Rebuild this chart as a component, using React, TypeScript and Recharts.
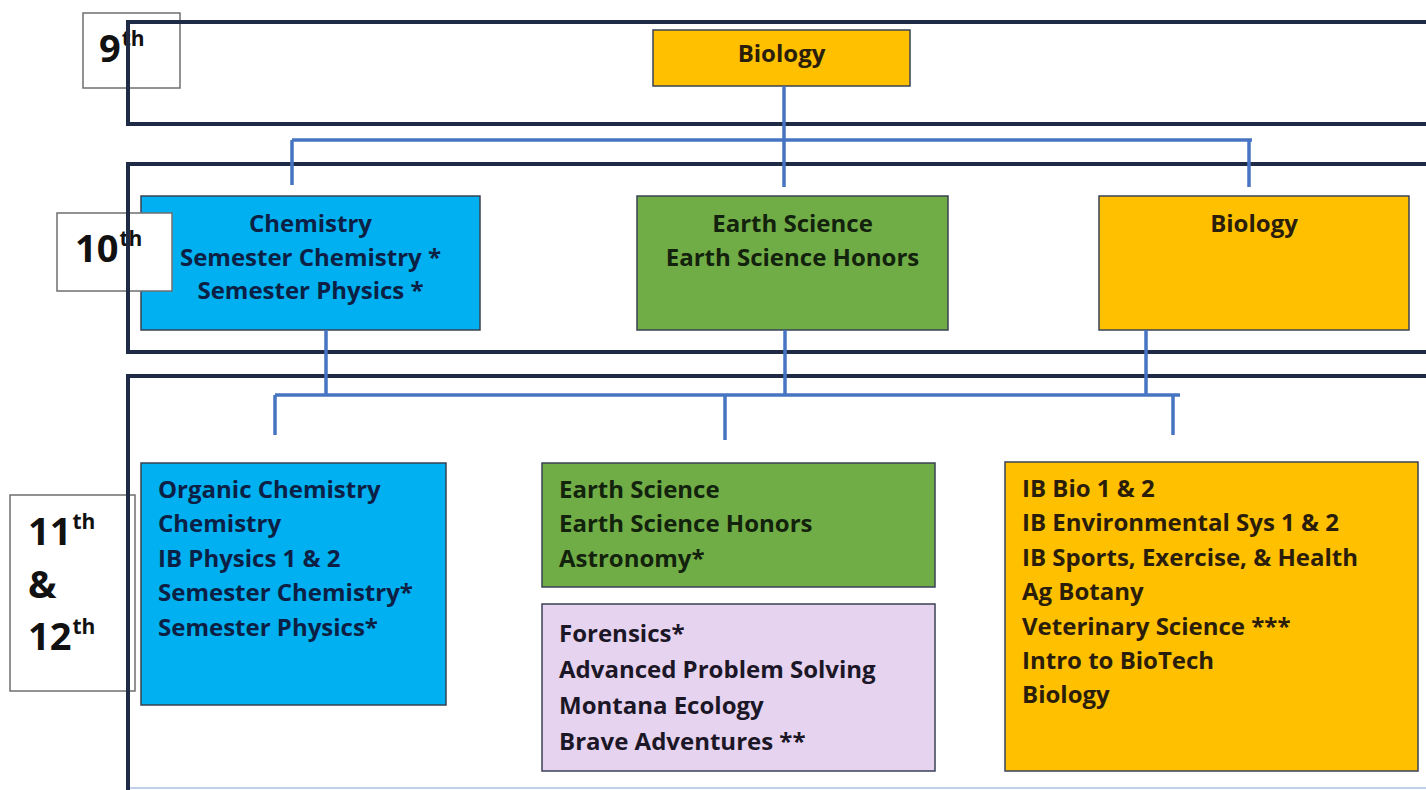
import { ComposedChart, XAxis, YAxis, ReferenceArea, ReferenceLine } from "recharts";

const W = 1426;
const H = 790;

// grade tiers: label box + open frame (top, left, bottom edges)
const gradeLabels = [
  { key: "g9", rows: [["9", "th"]], x1: 83, x2: 180, y1: 13, y2: 88 },
  { key: "g10", rows: [["10", "th"]], x1: 57, x2: 172, y1: 213, y2: 291 },
  { key: "g11", rows: [["11", "th"], ["&", ""], ["12", "th"]], x1: 10, x2: 135, y1: 495, y2: 691 },
];

const tierFrames = [
  { key: "t9", left: 128, top: 22, bottom: 124 },
  { key: "t10", left: 128, top: 164, bottom: 352 },
  { key: "t11", left: 128, top: 376, bottom: 800 },
];

const courseBoxes = [
  { key: "bio9", track: "bio", align: "center", x1: 653, x2: 910, y1: 30, y2: 86, courses: ["Biology"] },
  { key: "chem10", track: "chem", align: "center", x1: 141, x2: 480, y1: 196, y2: 330, courses: ["Chemistry", "Semester Chemistry *", "Semester Physics *"] },
  { key: "earth10", track: "earth", align: "center", x1: 637, x2: 948, y1: 196, y2: 330, courses: ["Earth Science", "Earth Science Honors"] },
  { key: "bio10", track: "bio", align: "center", x1: 1099, x2: 1409, y1: 196, y2: 330, courses: ["Biology"] },
  { key: "chem11", track: "chem", align: "left", x1: 141, x2: 446, y1: 463, y2: 705, courses: ["Organic Chemistry", "Chemistry", "IB Physics 1 & 2", "Semester Chemistry*", "Semester Physics*"] },
  { key: "earth11", track: "earth", align: "left", x1: 542, x2: 935, y1: 463, y2: 587, courses: ["Earth Science", "Earth Science Honors", "Astronomy*"] },
  { key: "elective11", track: "elective", align: "left", x1: 542, x2: 935, y1: 604, y2: 771, courses: ["Forensics*", "Advanced Problem Solving", "Montana Ecology", "Brave Adventures **"] },
  { key: "bio11", track: "bio", align: "left", x1: 1005, x2: 1418, y1: 462, y2: 771, courses: ["IB Bio 1 & 2", "IB Environmental Sys 1 & 2", "IB Sports, Exercise, & Health", "Ag Botany", "Veterinary Science ***", "Intro to BioTech", "Biology"] },
];

// connector segments [x1, y1, x2, y2]
const connectors = [
  [784, 86, 784, 187],
  [292, 140, 1252, 140],
  [292, 140, 292, 185],
  [1249, 140, 1249, 187],
  [326, 330, 326, 395],
  [785, 330, 785, 395],
  [1146, 330, 1146, 395],
  [275, 395, 1180, 395],
  [275, 395, 275, 435],
  [725, 395, 725, 440],
  [1173, 395, 1173, 435],
];

const trackColors: Record<string, { fill: string; text: string }> = {
  bio: { fill: "#ffc000", text: "#2a1d0a" },
  chem: { fill: "#00b0f0", text: "#0c1f44" },
  earth: { fill: "#70ad47", text: "#13220c" },
  elective: { fill: "#e6d3f0", text: "#1c1726" },
};

const FONT = "'Open Sans', Lato, sans-serif";

const textLayout = (key: string, align: string) => {
  if (key === "bio9") return { first: 32, gap: 34 };
  if (key === "elective11") return { first: 38, gap: 36 };
  if (align === "center") return { first: 36, gap: 33.5 };
  return { first: 35, gap: 34.4 };
};

const CourseBox = (props: any) => {
  const { x, y, width, height, box } = props;
  const c = trackColors[box.track];
  const center = box.align === "center";
  const lay = textLayout(box.key, box.align);
  return (
    <g>
      <rect x={x} y={y} width={width} height={height} fill={c.fill} stroke="#3a4253" strokeWidth={1.5} />
      {box.courses.map((t: string, i: number) => (
        <text
          key={t + i}
          x={center ? x + width / 2 : x + 17}
          y={y + lay.first + i * lay.gap}
          textAnchor={center ? "middle" : "start"}
          fontFamily={FONT}
          fontWeight={700}
          fontSize={24}
          fill={c.text}
        >
          {t}
        </text>
      ))}
    </g>
  );
};

const GradeBox = (props: any) => {
  const { x, y, width, height, label } = props;
  const multi = label.rows.length > 1;
  return (
    <g>
      <rect x={x} y={y} width={width} height={height} fill="#ffffff" stroke="#6f6f6f" strokeWidth={1.5} />
      {label.rows.map((r: string[], i: number) => (
        <text
          key={i}
          x={x + (label.key === "g9" ? 16 : 18)}
          y={multi ? y + 50 + i * 52.5 : y + 49}
          fontFamily={FONT}
          fontWeight={700}
          fontSize={38}
          fill="#111111"
        >
          {r[0]}
          {r[1] && (
            <tspan dx={1} dy={-16} fontSize={21}>
              {r[1]}
            </tspan>
          )}
        </text>
      ))}
    </g>
  );
};

export default function App() {
  return (
    <div style={{ position: "absolute", left: 0, top: 0, width: W, height: H, background: "#ffffff" }}>
      <ComposedChart width={W} height={H} data={[]} margin={{ top: 0, right: 0, bottom: 0, left: 0 }}>
        <XAxis type="number" dataKey="x" domain={[0, W]} hide allowDataOverflow />
        <YAxis type="number" dataKey="y" domain={[0, H]} reversed hide allowDataOverflow />

        {tierFrames.map((f) => [
          <ReferenceLine key={f.key + "t"} segment={[{ x: f.left - 2, y: f.top }, { x: W, y: f.top }]} stroke="#1f2b44" strokeWidth={4} ifOverflow="visible" />,
          <ReferenceLine key={f.key + "l"} segment={[{ x: f.left, y: f.top }, { x: f.left, y: f.bottom }]} stroke="#1f2b44" strokeWidth={4} ifOverflow="visible" />,
          <ReferenceLine key={f.key + "b"} segment={[{ x: f.left - 2, y: f.bottom }, { x: W, y: f.bottom }]} stroke="#1f2b44" strokeWidth={4} ifOverflow="visible" />,
        ])}
        <ReferenceLine segment={[{ x: 130, y: 788 }, { x: W, y: 788 }]} stroke="#bfd0e8" strokeWidth={2} ifOverflow="visible" />

        {connectors.map((s, i) => (
          <ReferenceLine
            key={"c" + i}
            segment={[{ x: s[0], y: s[1] }, { x: s[2], y: s[3] }]}
            stroke="#4673c2"
            strokeWidth={3.5}
            ifOverflow="visible"
          />
        ))}

        {courseBoxes.map((b) => (
          <ReferenceArea
            key={b.key}
            x1={b.x1}
            x2={b.x2}
            y1={b.y1}
            y2={b.y2}
            ifOverflow="visible"
            shape={(p: any) => <CourseBox {...p} box={b} />}
          />
        ))}

        {gradeLabels.map((g) => (
          <ReferenceArea
            key={g.key}
            x1={g.x1}
            x2={g.x2}
            y1={g.y1}
            y2={g.y2}
            ifOverflow="visible"
            shape={(p: any) => <GradeBox {...p} label={g} />}
          />
        ))}
      </ComposedChart>
    </div>
  );
}
